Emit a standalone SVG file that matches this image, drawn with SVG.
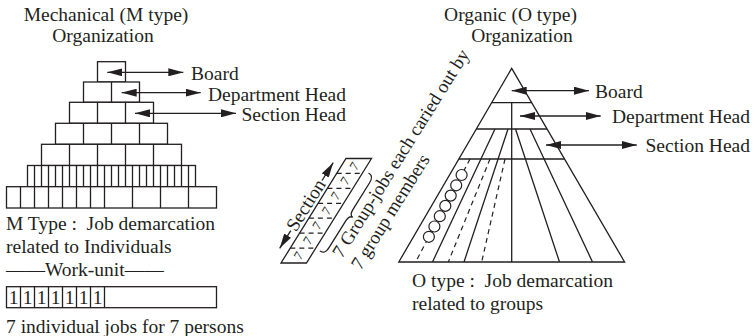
<svg xmlns="http://www.w3.org/2000/svg" width="755" height="336" viewBox="0 0 755 336" font-family="'Liberation Serif', 'DejaVu Serif', serif">
<style>
  text { font-family: "Liberation Serif", "DejaVu Serif", serif; font-size: 19.5px; fill: #231f20; }
  .ln { stroke: #231f20; stroke-width: 1.3; fill: none; }
  .cell { stroke: #231f20; stroke-width: 1.3; fill: #fff; }
  .dash { stroke: #231f20; stroke-width: 1.2; fill: none; stroke-dasharray: 5 4; }
  .arr { stroke: #231f20; stroke-width: 1.3; fill: none; marker-start: url(#ah); marker-end: url(#ah); }
  .arr1 { stroke: #231f20; stroke-width: 1.3; fill: none; marker-end: url(#ah); }
  .mid { text-anchor: middle; }
  .end { text-anchor: end; }
  .dg { font-size: 13px; text-anchor: middle; }
</style>
<defs>
  <marker id="ah" viewBox="0 0 15 8" refX="15" refY="4" markerWidth="15" markerHeight="8" markerUnits="userSpaceOnUse" orient="auto-start-reverse">
    <path d="M0,0 L15,4 L0,8 z" fill="#231f20"/>
  </marker>
</defs>
<rect width="755" height="336" fill="#fff"/>

<!-- Left: Mechanical organization -->
<g id="m-title">
  <text class="mid" x="106" y="20.5">Mechanical (M type)</text>
  <text class="mid" x="103" y="42">Organization</text>
</g>
<g id="m-pyramid">
  <rect class="cell" x="97.5" y="61.7" width="28" height="20.3"/>
  <rect class="cell" x="83.5" y="82" width="56" height="20.3"/>
  <line class="ln" x1="111.5" y1="82" x2="111.5" y2="102.3"/>
  <rect class="cell" x="69.5" y="102.3" width="84" height="21"/>
  <path class="ln" d="M97.5,102.3V123.3M125.5,102.3V123.3"/>
  <rect class="cell" x="55.5" y="123.3" width="112" height="21"/>
  <path class="ln" d="M83.5,123.3V144.3M111.5,123.3V144.3M139.5,123.3V144.3"/>
  <rect class="cell" x="41.5" y="144.3" width="140" height="21.2"/>
  <path class="ln" d="M69.5,144.3V165.5M97.5,144.3V165.5M125.5,144.3V165.5M153.5,144.3V165.5"/>
  <rect class="cell" x="27.5" y="165.5" width="168" height="21.2"/>
  <path class="ln" d="M34.5,165.5V186.7M41.5,165.5V186.7M48.5,165.5V186.7M55.5,165.5V186.7M62.5,165.5V186.7M69.5,165.5V186.7M76.5,165.5V186.7M83.5,165.5V186.7M90.5,165.5V186.7M97.5,165.5V186.7M104.5,165.5V186.7M111.5,165.5V186.7M118.5,165.5V186.7M125.5,165.5V186.7M132.5,165.5V186.7M139.5,165.5V186.7M146.5,165.5V186.7M153.5,165.5V186.7M160.5,165.5V186.7M167.5,165.5V186.7M174.5,165.5V186.7M181.5,165.5V186.7M188.5,165.5V186.7"/>
  <rect class="cell" x="6.5" y="186.7" width="210" height="21.3"/>
  <path class="ln" d="M20.5,186.7V208M34.5,186.7V208M48.5,186.7V208M62.5,186.7V208M76.5,186.7V208M90.5,186.7V208M104.5,186.7V208M132.5,186.7V208M160.5,186.7V208M188.5,186.7V208"/>
</g>
<g id="m-labels">
  <text x="191" y="80">Board</text>
  <text class="end" x="346" y="100.7">Department Head</text>
  <text class="end" x="346" y="121">Section Head</text>
</g>
<g id="m-desc">
  <text x="6" y="230" xml:space="preserve">M Type :  Job demarcation</text>
  <text x="6" y="253.3">related to Individuals</text>
  <text x="6" y="275.7">——Work-unit——</text>
  <rect class="cell" x="6.5" y="286.7" width="210" height="21"/>
  <path class="ln" d="M20.5,286.7V307.7M34.5,286.7V307.7M48.5,286.7V307.7M62.5,286.7V307.7M76.5,286.7V307.7M90.5,286.7V307.7M104.5,286.7V307.7"/>
  <text class="mid" x="13.5" y="304">1</text>
  <text class="mid" x="27.5" y="304">1</text>
  <text class="mid" x="41.5" y="304">1</text>
  <text class="mid" x="55.5" y="304">1</text>
  <text class="mid" x="69.5" y="304">1</text>
  <text class="mid" x="83.5" y="304">1</text>
  <text class="mid" x="97.5" y="304">1</text>
  <text x="6" y="333">7 individual jobs for 7 persons</text>
</g>

<!-- Middle: section strip -->
<g id="section-strip">
  <polygon class="cell" points="346,158.5 371.5,158.5 306.5,263 281,263"/>
  <path class="dash" stroke-dasharray="3 3" d="M336.7,173.4H362.2M327.4,188.4H352.9M318.1,203.3H343.6M308.9,218.2H334.4M299.6,233.1H325.1M290.3,248.1H315.8"/>
  <text class="dg" transform="translate(354.1,166) rotate(-58)" dy="4.5">7</text>
  <text class="dg" transform="translate(344.8,180.9) rotate(-58)" dy="4.5">7</text>
  <text class="dg" transform="translate(335.5,195.8) rotate(-58)" dy="4.5">7</text>
  <text class="dg" transform="translate(326.3,210.8) rotate(-58)" dy="4.5">7</text>
  <text class="dg" transform="translate(317,225.7) rotate(-58)" dy="4.5">7</text>
  <text class="dg" transform="translate(307.7,240.6) rotate(-58)" dy="4.5">7</text>
  <text class="dg" transform="translate(298.4,255.5) rotate(-58)" dy="4.5">7</text>
</g>
<g id="section-labels" transform="translate(342,259) rotate(-58)">
  <line class="arr1" x1="-3" y1="-58.5" x2="-24" y2="-58.5"/>
  <line class="arr1" x1="56" y1="-58.5" x2="77" y2="-58.5"/>
  <text class="mid" x="26.5" y="-53" style="font-size:19px">Section</text>
  <path class="ln" d="M-5,-23 C-5,-18 -2,-17 3,-17 L34,-17 C39,-17 41,-16 41,-13 C41,-16 43,-17 48,-17 L79,-17 C84,-17 87,-18 87,-23"/>
  <text x="0" y="0" style="font-size:18.8px">7 Group-jobs each caried out by</text>
  <text x="0" y="22" style="font-size:18.8px">7 group members</text>
</g>

<!-- Right: Organic organization -->
<g id="o-title">
  <text class="mid" x="510.5" y="20.5">Organic (O type)</text>
  <text class="mid" x="522" y="42">Organization</text>
</g>
<g id="o-triangle">
  <polygon class="ln" points="511.7,68.3 624.6,262 398.8,262"/>
  <path class="ln" d="M491.6,102.7H531.8M476.3,129H547.1M458.8,159H564.6M511.7,102.7V262"/>
  <path class="ln" d="M495,129L432.5,262M508,129L464,262M515.5,129L559.5,262M530,129L592.5,262"/>
  <path class="dash" d="M470,159L415.6,262M490,159L448.3,262M505,159L481.7,262"/>
  <g fill="#fff" stroke="#231f20" stroke-width="1.2">
    <circle cx="461.6" cy="175" r="5.5"/>
    <circle cx="456.2" cy="185.3" r="5.5"/>
    <circle cx="450.7" cy="195.6" r="5.5"/>
    <circle cx="445.3" cy="205.9" r="5.5"/>
    <circle cx="439.8" cy="216.2" r="5.5"/>
    <circle cx="434.4" cy="226.5" r="5.5"/>
    <circle cx="428.9" cy="236.8" r="5.5"/>
  </g>
</g>
<g id="o-labels">
  <text x="595" y="97.7">Board</text>
  <text class="end" x="750" y="123.3">Department Head</text>
  <text class="end" x="750" y="152.3">Section Head</text>
</g>
<g id="o-desc">
  <text x="412" y="286.7" xml:space="preserve">O type :  Job demarcation</text>
  <text x="412" y="309.5">related to groups</text>
</g>

<!-- Connectors -->
<g id="connectors">
  <line class="arr" x1="107.3" y1="72.3" x2="183.3" y2="72.3"/>
  <line class="arr" x1="121.7" y1="92.7" x2="200.7" y2="92.7"/>
  <line class="arr" x1="135" y1="113.3" x2="236" y2="113.3"/>
  <line class="arr" x1="511.7" y1="90.7" x2="589" y2="90.7"/>
  <line class="arr" x1="520" y1="116" x2="600.7" y2="116"/>
  <line class="arr" x1="546" y1="145" x2="636.7" y2="145"/>
</g>
</svg>
